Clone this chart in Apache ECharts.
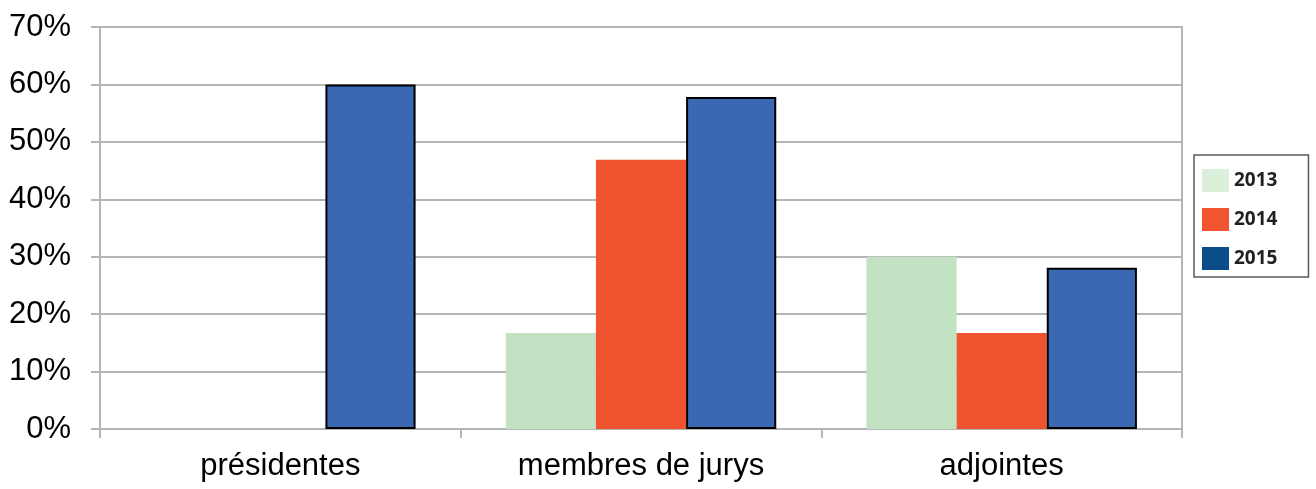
<!DOCTYPE html>
<html>
<head>
<meta charset="utf-8">
<script src="https://cdn.jsdelivr.net/npm/echarts@6/dist/echarts.min.js"></script>
<style>
html,body{margin:0;padding:0;background:#fff;}
#chart{width:1316px;height:489px;}
</style>
</head>
<body>
<div id="chart"></div>
<script>
var categories = ['présidentes', 'membres de jurys', 'adjointes'];
var seriesNames = ['2013', '2014', '2015'];
var values2013 = [0, 16.7, 30.0];
var values2014 = [0, 46.9, 16.7];
var values2015 = [60.0, 57.8, 28.1];
var yTicks = [0, 10, 20, 30, 40, 50, 60, 70];

var barColors = ['#c3e1c3', '#ef532f', '#3a68b2'];
var legendColors = ['#dcefda', '#f05530', '#0b4d8a'];

var chart = echarts.init(document.getElementById('chart'));
var gridColor = '#b4b6b6';
var option = {
  animation: false,
  backgroundColor: '#ffffff',
  grid: {left: 100, right: 134, top: 27, bottom: 60, containLabel: false,
         show: true, borderColor: gridColor, borderWidth: 2},
  legend: {
    orient: 'vertical',
    left: 1194, top: 155,
    padding: [14, 31, 7, 8],
    itemWidth: 27, itemHeight: 23, itemGap: 16,
    borderColor: '#5a5a5a', borderWidth: 1.5,
    icon: 'rect',
    textStyle: {fontFamily: 'Noto Sans', fontWeight: 'bold', fontSize: 19, color: '#231f20', padding: [0,0,0,0]},
    data: seriesNames.map(function(n, i){ return {name: n, itemStyle: {color: legendColors[i], borderWidth: 0}}; })
  },
  xAxis: {
    type: 'category',
    data: categories,
    axisLine: {show: true, lineStyle: {color: gridColor, width: 2}},
    axisTick: {show: true, length: 9, lineStyle: {color: gridColor, width: 2}},
    axisLabel: {fontFamily: 'Liberation Sans', fontSize: 31, color: '#000', margin: 22}
  },
  yAxis: {
    type: 'value',
    min: yTicks[0], max: yTicks[yTicks.length - 1], interval: 10,
    axisLine: {show: true, lineStyle: {color: gridColor, width: 2}},
    axisTick: {show: true, length: 9, lineStyle: {color: gridColor, width: 2}},
    splitLine: {show: true, lineStyle: {color: gridColor, width: 2}},
    axisLabel: {formatter: '{value}%', fontFamily: 'Liberation Sans', fontSize: 31, color: '#000', margin: 29}
  },
  series: [
    {name: seriesNames[0], type: 'bar', data: values2013, barGap: '0%', barCategoryGap: '25%',
     itemStyle: {color: barColors[0]}},
    {name: seriesNames[1], type: 'bar', data: values2014, barGap: '0%', barCategoryGap: '25%',
     itemStyle: {color: barColors[1]}},
    {name: seriesNames[2], type: 'bar', data: values2015, barGap: '0%', barCategoryGap: '25%',
     itemStyle: {color: barColors[2], borderColor: '#000', borderWidth: 2}}
  ]
};
chart.setOption(option);
</script>
</body>
</html>
